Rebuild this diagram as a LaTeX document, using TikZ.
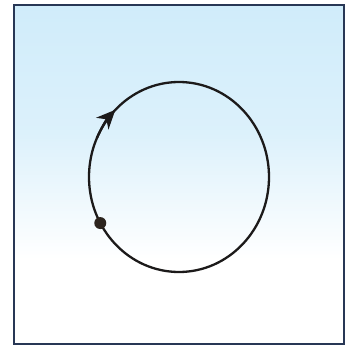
\documentclass[tikz,border=0pt]{standalone}
\usepackage{xcolor}
\usepackage{tikz}
\usetikzlibrary{arrows.meta, calc}

\definecolor{sky}{RGB}{208,236,250}
\definecolor{inkline}{RGB}{28,26,26}
\definecolor{frameblue}{RGB}{40,55,85}

\begin{document}
\begin{tikzpicture}[x=1pt, y=1pt,
			orbit/.style={draw=inkline, line width=2.3pt},
			ball/.style={circle, fill=inkline!90!brown, inner sep=0pt, minimum size=12pt},
			frame/.style={draw=frameblue, line width=1.3pt}
			]
			\useasboundingbox (0,0) rectangle (347,349);
			\fill[white] (0,0) rectangle (347,349);
			
			% background of the frame
			\shade[top color=sky, bottom color=white, middle color=sky!75!white] (14,344) rectangle (344,90);
			\draw[frame] (14,5) rectangle (344,344);
			
			% path of the ball
			\coordinate (c) at (179,172);
			\draw[orbit] (c) ellipse [x radius=90, y radius=95];
			\draw[orbit, -{Stealth[length=19pt, width=17pt, inset=6pt]}]
				($(c)+(156:90 and 95)$) arc[start angle=156, end angle=135, x radius=90, y radius=95];
			\node[ball] (b) at ($(c)+(209:90 and 95)$) {};
		\end{tikzpicture}
\end{document}
